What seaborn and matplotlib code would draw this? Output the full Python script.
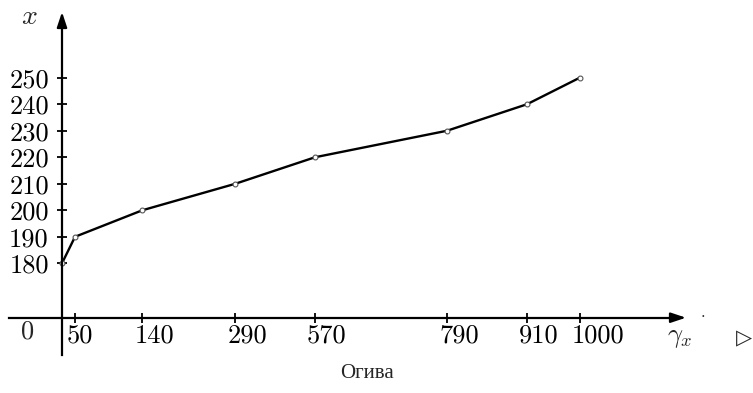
import numpy as np
import pandas as pd
import seaborn as sns
import matplotlib
import matplotlib.pyplot as plt
import matplotlib.transforms as mtransforms

# Data: cumulative frequency (gamma_x) against upper class bound x
gamma_cum = [0, 50, 140, 290, 570, 790, 910, 1000]
x_bound = [180, 190, 200, 210, 220, 230, 240, 250]
x_ticks = [50, 140, 290, 570, 790, 910, 1000]
y_ticks = [180, 190, 200, 210, 220, 230, 240, 250]

df = pd.DataFrame({"gamma": gamma_cum, "x": x_bound})

# Style
sns.set_theme(style="white")
plt.rcParams["font.family"] = ["cmr10", "DejaVu Serif"]
plt.rcParams["mathtext.fontset"] = "cm"
plt.rcParams["axes.formatter.use_mathtext"] = True

W, H = 753, 393
fig = plt.figure(figsize=(W / 100, H / 100), dpi=100)
ax = fig.add_axes([0, 0, 1, 1])

# The horizontal axis in the original is hand-spaced, not proportional:
# pixel column of each tick value
ruler_val = np.array([0, 50, 140, 290, 570, 790, 910, 1000], dtype=float)
ruler_px = np.array([62, 75, 142.3, 235.3, 315, 447, 527, 579.7])
s_lo = (ruler_px[1] - ruler_px[0]) / (ruler_val[1] - ruler_val[0])
s_hi = (ruler_px[-1] - ruler_px[-2]) / (ruler_val[-1] - ruler_val[-2])


def fwd(v):
    v = np.asarray(v, dtype=float)
    p = np.interp(v, ruler_val, ruler_px)
    p = np.where(v < ruler_val[0], ruler_px[0] + (v - ruler_val[0]) * s_lo, p)
    p = np.where(v > ruler_val[-1], ruler_px[-1] + (v - ruler_val[-1]) * s_hi, p)
    return p


def inv(p):
    p = np.asarray(p, dtype=float)
    v = np.interp(p, ruler_px, ruler_val)
    v = np.where(p < ruler_px[0], ruler_val[0] + (p - ruler_px[0]) / s_lo, v)
    v = np.where(p > ruler_px[-1], ruler_val[-1] + (p - ruler_px[-1]) / s_hi, v)
    return v


ax.set_xscale("function", functions=(fwd, inv))
ax.set_xlim(float(inv(0)), float(inv(W)))

# vertical scale: 180 at row 263.3, 2.651 px per unit
def yval(row):
    return 180 + (263.3 - row) / 2.651

ax.set_ylim(yval(H), yval(0))

# Ogive line
sns.lineplot(data=df, x="gamma", y="x", color="black", linewidth=1.7,
             marker="o", markersize=3.5, markerfacecolor="white",
             markeredgecolor="#555555", markeredgewidth=0.8, ax=ax)
ax.set_xlabel("")
ax.set_ylabel("")

# Axes as arrows
x_axis_y = yval(317.7)
for s in ["top", "right"]:
    ax.spines[s].set_visible(False)
ax.spines["left"].set_position(("data", 0))
ax.spines["bottom"].set_position(("data", x_axis_y))
ax.spines["left"].set_bounds(yval(355), yval(22))
ax.spines["bottom"].set_bounds(float(inv(9)), float(inv(676)))
for s in ["left", "bottom"]:
    ax.spines[s].set_linewidth(1.6)
    ax.spines[s].set_color("black")

arrow = dict(arrowstyle="-|>,head_length=0.9,head_width=0.3", color="black",
             lw=1.6, shrinkA=0, shrinkB=0, mutation_scale=10)
ax.annotate("", xy=(float(inv(686)), x_axis_y), xytext=(float(inv(670)), x_axis_y),
            arrowprops=arrow)
ax.annotate("", xy=(0, yval(12)), xytext=(0, yval(28)), arrowprops=arrow)

# Ticks
ax.set_xticks(x_ticks, labels=[str(t) for t in x_ticks])
ax.set_yticks(y_ticks, labels=[str(t) for t in y_ticks])
ax.minorticks_off()
ax.tick_params(axis="both", direction="inout", length=7, width=1.3,
               color="black", labelsize=19, labelcolor="black",
               bottom=True, left=True)
ax.tick_params(axis="y", pad=6)
ax.tick_params(axis="x", pad=1)
shift = mtransforms.ScaledTranslation(-8 / 100, 0, fig.dpi_scale_trans)
for lbl in ax.get_xticklabels():
    lbl.set_horizontalalignment("left")
    lbl.set_transform(lbl.get_transform() + shift)
ax.grid(False)

# Labels
ax.text(28 / W, 1 - 331.5 / H, "0", transform=ax.transAxes, fontsize=19,
        ha="center", va="center")
ax.text(29 / W, 1 - 17 / H, r"$x$", transform=ax.transAxes, fontsize=20,
        ha="center", va="center")
ax.text(680 / W, 1 - 338 / H, r"$\gamma_x$", transform=ax.transAxes, fontsize=19,
        ha="center", va="center")
ax.text(703 / W, 1 - 312 / H, ".", transform=ax.transAxes, fontsize=12,
        ha="center", va="center")
ax.text(744 / W, 1 - 338 / H, "\u25b7", transform=ax.transAxes, fontsize=15,
        ha="center", va="center", family="DejaVu Sans")
ax.text(367 / W, 1 - 373 / H, "Огива", transform=ax.transAxes, fontsize=15,
        ha="center", va="center", family=["Liberation Serif", "DejaVu Serif"])

fig.savefig("out.png", dpi=100)
